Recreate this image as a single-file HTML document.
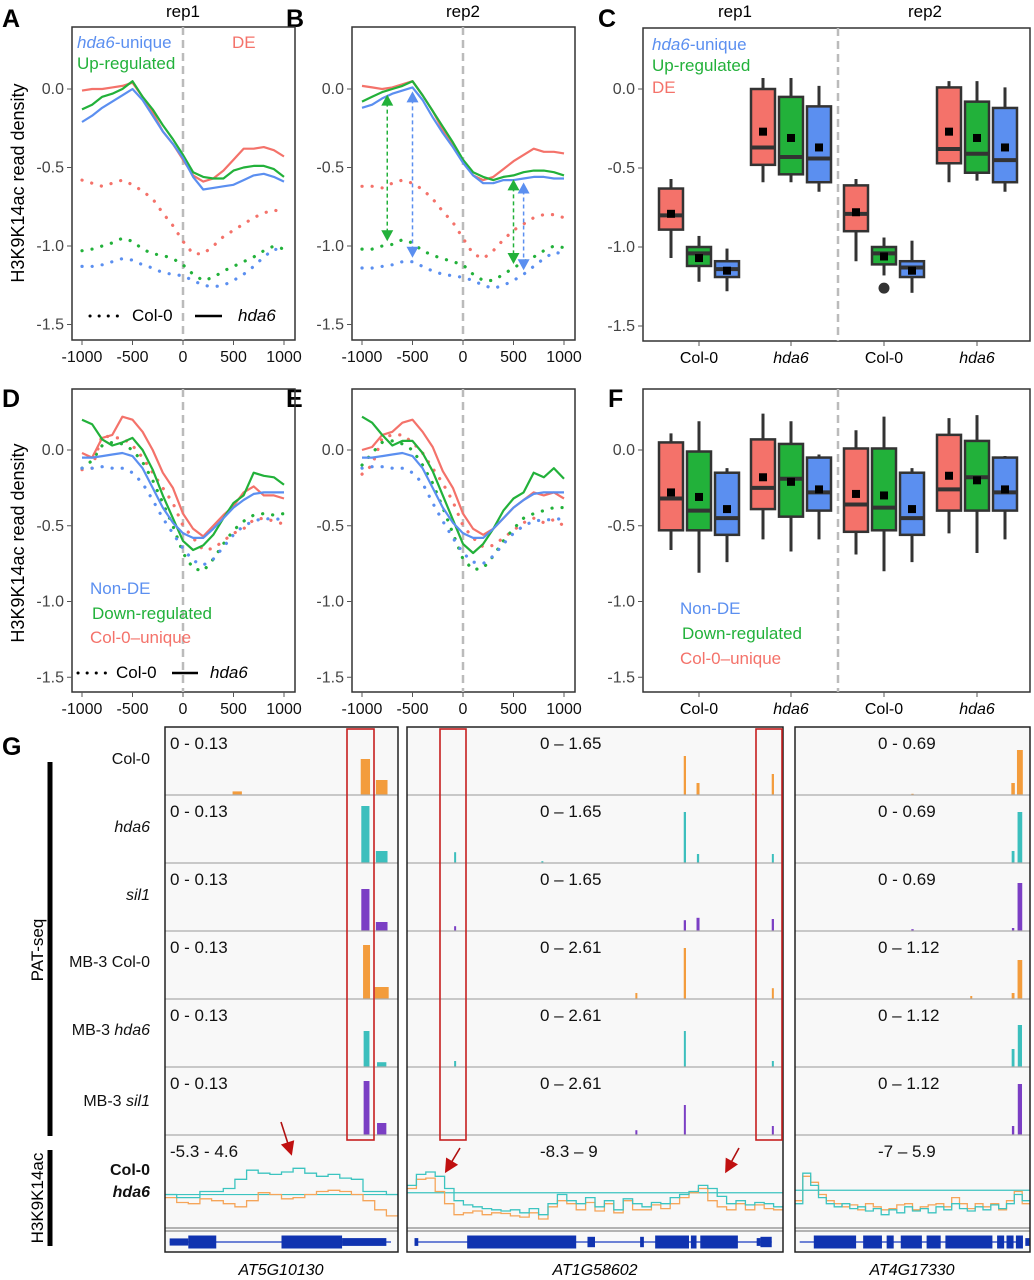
<!DOCTYPE html>
<html><head><meta charset="utf-8"><style>
body{margin:0;background:#fff}
svg{display:block;font-family:"Liberation Sans",Arial,sans-serif}
.tk{font-size:16px;fill:#444}
.pl{font-size:25px;font-weight:bold;fill:#000}
.lg{font-size:17px}
.tr{font-size:16px;fill:#111}
</style></head><body>
<svg id="fig" width="1034" height="1280" viewBox="0 0 1034 1280" xmlns="http://www.w3.org/2000/svg">
<rect width="1034" height="1280" fill="#fff"/>
<text class="pl" x="2" y="27">A</text>
<text class="pl" x="286" y="27">B</text>
<text class="pl" x="598" y="27">C</text>
<text class="pl" x="2" y="407">D</text>
<text class="pl" x="286" y="407">E</text>
<text class="pl" x="608" y="407">F</text>
<text class="pl" x="2" y="755">G</text>
<text x="183" y="17" font-size="17" text-anchor="middle">rep1</text>
<text x="463" y="17" font-size="17" text-anchor="middle">rep2</text>
<text x="735" y="17" font-size="17" text-anchor="middle">rep1</text>
<text x="925" y="17" font-size="17" text-anchor="middle">rep2</text>
<text transform="translate(24,183) rotate(-90)" font-size="18" text-anchor="middle">H3K9K14ac read density</text>
<text transform="translate(24,543) rotate(-90)" font-size="18" text-anchor="middle">H3K9K14ac read density</text>
<g id="charts"></g>
<text class="lg" x="77" y="48" fill="#5b8ff0"><tspan font-style="italic">hda6</tspan>-unique</text>
<text class="lg" x="77" y="69" fill="#22b13a">Up-regulated</text>
<text class="lg" x="232" y="48" fill="#f4726a">DE</text>
<line x1="90" y1="316" x2="120" y2="316" stroke="#000" stroke-width="3" stroke-dasharray="0.1 9" stroke-linecap="round"/>
<text class="lg" x="132" y="321">Col-0</text>
<line x1="195" y1="316" x2="222" y2="316" stroke="#000" stroke-width="2.5"/>
<text class="lg" x="238" y="321" font-style="italic">hda6</text>
<text class="lg" x="652" y="50" fill="#5b8ff0"><tspan font-style="italic">hda6</tspan>-unique</text>
<text class="lg" x="652" y="71" fill="#22b13a">Up-regulated</text>
<text class="lg" x="652" y="93" fill="#f4726a">DE</text>
<text class="lg" x="90" y="594" fill="#5b8ff0">Non-DE</text>
<text class="lg" x="92" y="619" fill="#22b13a">Down-regulated</text>
<text class="lg" x="90" y="643" fill="#f4726a">Col-0–unique</text>
<line x1="78" y1="673" x2="106" y2="673" stroke="#000" stroke-width="3" stroke-dasharray="0.1 9" stroke-linecap="round"/>
<text class="lg" x="116" y="678">Col-0</text>
<line x1="172" y1="673" x2="198" y2="673" stroke="#000" stroke-width="2.5"/>
<text class="lg" x="210" y="678" font-style="italic">hda6</text>
<text class="lg" x="680" y="614" fill="#5b8ff0">Non-DE</text>
<text class="lg" x="682" y="639" fill="#22b13a">Down-regulated</text>
<text class="lg" x="680" y="664" fill="#f4726a">Col-0–unique</text>
<line x1="50" y1="762" x2="50" y2="1136" stroke="#000" stroke-width="5"/>
<text transform="translate(43,950) rotate(-90)" font-size="17" text-anchor="middle">PAT-seq</text>
<line x1="50" y1="1150" x2="50" y2="1246" stroke="#000" stroke-width="5"/>
<text transform="translate(43,1198) rotate(-90)" font-size="17" text-anchor="middle">H3K9K14ac</text>
<text class="tr" x="150" y="764" text-anchor="end">Col-0</text>
<text class="tr" x="150" y="832" text-anchor="end" font-style="italic">hda6</text>
<text class="tr" x="150" y="900" text-anchor="end" font-style="italic">sil1</text>
<text class="tr" x="150" y="967" text-anchor="end">MB-3 Col-0</text>
<text class="tr" x="150" y="1035" text-anchor="end">MB-3 <tspan font-style="italic">hda6</tspan></text>
<text class="tr" x="150" y="1106" text-anchor="end">MB-3 <tspan font-style="italic">sil1</tspan></text>
<text class="tr" x="150" y="1175" text-anchor="end" font-weight="bold" fill="#f5b06a">Col-0</text>
<text class="tr" x="150" y="1197" text-anchor="end" font-weight="bold" font-style="italic" fill="#3cc4c0">hda6</text>
<text x="281" y="1275" font-size="16" font-style="italic" text-anchor="middle">AT5G10130</text>
<text x="595" y="1275" font-size="16" font-style="italic" text-anchor="middle">AT1G58602</text>
<text x="912" y="1275" font-size="16" font-style="italic" text-anchor="middle">AT4G17330</text>
<g id="tracks"></g>
</svg>
<script>
const positions = [-1000,-900,-800,-700,-600,-500,-400,-300,-200,-100,0,100,200,300,400,500,600,700,800,900,1000];
const xTickLabels = ['-1000','-500','0','500','1000'];
const yTickValues = [0,-0.5,-1,-1.5];
const yTickLabels = ['0.0','-0.5','-1.0','-1.5'];
const aRedSolid = [-0.01,0.0,0.0,0.01,0.02,0.04,-0.05,-0.15,-0.27,-0.35,-0.45,-0.55,-0.59,-0.57,-0.52,-0.45,-0.38,-0.38,-0.37,-0.39,-0.43];
const aGreenSolid = [-0.13,-0.10,-0.05,-0.03,0.0,0.05,-0.05,-0.13,-0.23,-0.32,-0.42,-0.53,-0.56,-0.57,-0.57,-0.52,-0.50,-0.49,-0.49,-0.51,-0.56];
const aBlueSolid = [-0.21,-0.17,-0.12,-0.08,-0.04,0.0,-0.07,-0.17,-0.27,-0.35,-0.44,-0.56,-0.64,-0.63,-0.62,-0.61,-0.58,-0.55,-0.54,-0.56,-0.59];
const aRedDot = [-0.58,-0.60,-0.62,-0.60,-0.58,-0.61,-0.65,-0.70,-0.79,-0.87,-0.97,-1.05,-1.05,-1.00,-0.94,-0.90,-0.86,-0.82,-0.79,-0.77,-0.79];
const aGreenDot = [-1.03,-1.02,-1.00,-0.98,-0.95,-0.97,-1.02,-1.05,-1.06,-1.08,-1.12,-1.18,-1.22,-1.20,-1.16,-1.13,-1.10,-1.07,-1.03,-1.00,-1.02];
const aBlueDot = [-1.13,-1.13,-1.12,-1.10,-1.08,-1.09,-1.12,-1.14,-1.17,-1.18,-1.19,-1.22,-1.25,-1.26,-1.25,-1.22,-1.18,-1.13,-1.07,-1.02,-1.03];
const bRedSolid = [0.02,0.01,0.0,0.01,0.03,0.05,-0.04,-0.14,-0.26,-0.36,-0.46,-0.55,-0.58,-0.56,-0.51,-0.46,-0.42,-0.38,-0.40,-0.40,-0.41];
const bGreenSolid = [-0.08,-0.05,-0.02,0.0,0.02,0.05,-0.04,-0.14,-0.24,-0.34,-0.45,-0.53,-0.56,-0.58,-0.56,-0.55,-0.53,-0.52,-0.52,-0.53,-0.55];
const bBlueSolid = [-0.12,-0.10,-0.06,-0.03,-0.01,0.01,-0.07,-0.18,-0.28,-0.37,-0.47,-0.55,-0.60,-0.60,-0.58,-0.58,-0.57,-0.56,-0.56,-0.57,-0.57];
const bRedDot = [-0.62,-0.62,-0.63,-0.60,-0.58,-0.60,-0.64,-0.70,-0.78,-0.85,-0.95,-1.05,-1.08,-1.03,-0.96,-0.90,-0.86,-0.82,-0.80,-0.80,-0.82];
const bGreenDot = [-1.02,-1.02,-1.00,-0.99,-0.96,-0.98,-1.03,-1.06,-1.08,-1.10,-1.12,-1.18,-1.22,-1.22,-1.18,-1.14,-1.10,-1.07,-1.03,-1.00,-1.01];
const bBlueDot = [-1.14,-1.14,-1.13,-1.12,-1.10,-1.10,-1.13,-1.16,-1.18,-1.19,-1.20,-1.22,-1.25,-1.27,-1.25,-1.22,-1.18,-1.13,-1.08,-1.04,-1.05];
const dRedSolid = [-0.02,-0.05,0.08,0.10,0.22,0.20,0.12,0.0,-0.15,-0.25,-0.42,-0.52,-0.57,-0.50,-0.43,-0.37,-0.28,-0.24,-0.30,-0.30,-0.32];
const dGreenSolid = [0.20,0.17,0.07,0.03,0.05,0.08,0.0,-0.13,-0.30,-0.45,-0.60,-0.66,-0.63,-0.56,-0.45,-0.35,-0.30,-0.15,-0.17,-0.18,-0.23];
const dBlueSolid = [-0.05,-0.05,-0.04,-0.03,-0.02,-0.04,-0.12,-0.25,-0.38,-0.48,-0.55,-0.58,-0.58,-0.52,-0.45,-0.38,-0.33,-0.29,-0.28,-0.28,-0.28];
const dRedDot = [-0.13,-0.12,0.10,0.08,0.08,0.03,-0.05,-0.15,-0.25,-0.35,-0.50,-0.58,-0.66,-0.65,-0.60,-0.55,-0.52,-0.46,-0.45,-0.47,-0.49];
const dGreenDot = [-0.12,-0.07,0.03,0.05,0.04,0.0,-0.08,-0.20,-0.35,-0.50,-0.68,-0.78,-0.80,-0.72,-0.62,-0.53,-0.47,-0.43,-0.42,-0.43,-0.42];
const dBlueDot = [-0.12,-0.12,-0.11,-0.12,-0.12,-0.15,-0.22,-0.33,-0.45,-0.55,-0.65,-0.73,-0.76,-0.72,-0.64,-0.56,-0.50,-0.47,-0.45,-0.46,-0.45];
const eRedSolid = [0.0,0.02,0.10,0.12,0.18,0.20,0.12,0.02,-0.14,-0.25,-0.42,-0.52,-0.56,-0.52,-0.45,-0.38,-0.33,-0.28,-0.30,-0.28,-0.32];
const eGreenSolid = [0.22,0.18,0.10,0.03,0.06,0.06,-0.02,-0.14,-0.30,-0.46,-0.62,-0.68,-0.62,-0.52,-0.40,-0.32,-0.28,-0.15,-0.18,-0.12,-0.19];
const eBlueSolid = [-0.05,-0.05,-0.04,-0.03,-0.02,-0.04,-0.12,-0.25,-0.38,-0.48,-0.55,-0.58,-0.58,-0.52,-0.45,-0.38,-0.33,-0.29,-0.28,-0.28,-0.28];
const eRedDot = [-0.16,-0.10,0.08,0.10,0.10,0.05,-0.02,-0.12,-0.22,-0.34,-0.50,-0.58,-0.64,-0.63,-0.58,-0.53,-0.48,-0.45,-0.48,-0.46,-0.50];
const eGreenDot = [-0.10,-0.02,0.05,0.06,0.04,0.0,-0.10,-0.22,-0.38,-0.55,-0.72,-0.79,-0.78,-0.70,-0.60,-0.52,-0.45,-0.42,-0.40,-0.38,-0.38];
const eBlueDot = [-0.12,-0.11,-0.11,-0.12,-0.12,-0.15,-0.22,-0.35,-0.47,-0.58,-0.68,-0.74,-0.75,-0.70,-0.62,-0.55,-0.50,-0.47,-0.46,-0.46,-0.45];
const boxGroups = ['Col-0','hda6','Col-0','hda6'];
const cRed = [[-1.07,-0.89,-0.80,-0.63,-0.57,-0.79],[-0.59,-0.48,-0.37,0.00,0.07,-0.27],[-1.09,-0.90,-0.79,-0.61,-0.57,-0.78],[-0.59,-0.47,-0.38,0.01,0.05,-0.27]];
const cGreen = [[-1.22,-1.12,-1.04,-1.00,-0.93,-1.07],[-0.59,-0.54,-0.43,-0.05,0.07,-0.31],[-1.18,-1.11,-1.04,-1.00,-0.94,-1.06],[-0.58,-0.53,-0.41,-0.08,0.05,-0.31]];
const cBlue = [[-1.28,-1.19,-1.14,-1.09,-1.01,-1.15],[-0.65,-0.59,-0.44,-0.11,0.02,-0.37],[-1.29,-1.19,-1.13,-1.09,-0.96,-1.15],[-0.65,-0.59,-0.45,-0.12,0.01,-0.37]];
const cOutliers = [[2,1,-1.26]];
const fRed = [[-0.66,-0.53,-0.32,0.05,0.11,-0.28],[-0.59,-0.39,-0.25,0.07,0.24,-0.18],[-0.69,-0.54,-0.36,0.01,0.13,-0.29],[-0.55,-0.40,-0.26,0.10,0.21,-0.17]];
const fGreen = [[-0.81,-0.53,-0.40,-0.01,0.19,-0.31],[-0.67,-0.44,-0.19,0.04,0.19,-0.21],[-0.80,-0.53,-0.38,0.01,0.22,-0.30],[-0.68,-0.40,-0.18,0.06,0.23,-0.20]];
const fBlue = [[-0.74,-0.56,-0.45,-0.15,-0.12,-0.39],[-0.59,-0.40,-0.28,-0.05,-0.03,-0.26],[-0.74,-0.56,-0.45,-0.15,-0.12,-0.39],[-0.59,-0.40,-0.28,-0.05,-0.04,-0.26]];
const trackNames = ['col0','hda6','sil1','mb3-col0','mb3-hda6','mb3-sil1'];
const trackColors = ['#f39c3c','#3cbfbd','#7b3fc4','#f39c3c','#3cbfbd','#7b3fc4'];
const rangeLabels1 = ['0 - 0.13','0 - 0.13','0 - 0.13','0 - 0.13','0 - 0.13','0 - 0.13','-5.3 - 4.6'];
const rangeLabels2 = ['0 – 1.65','0 – 1.65','0 – 1.65','0 – 2.61','0 – 2.61','0 – 2.61','-8.3 – 9'];
const rangeLabels3 = ['0 - 0.69','0 - 0.69','0 - 0.69','0 – 1.12','0 – 1.12','0 – 1.12','-7 – 5.9'];
const peaks1 = [[[0.86,0.6,0.04],[0.93,0.25,0.05],[0.31,0.06,0.04]],[[0.86,0.95,0.035],[0.93,0.2,0.05]],[[0.86,0.7,0.035],[0.93,0.15,0.05]],[[0.865,0.9,0.03],[0.93,0.2,0.06]],[[0.865,0.6,0.025],[0.93,0.08,0.04]],[[0.865,0.9,0.025],[0.93,0.2,0.04]]];
const peaks2 = [[[0.739,0.65,0.006],[0.774,0.2,0.008],[0.973,0.35,0.006],[0.92,0.02,0.005]],[[0.128,0.18,0.005],[0.36,0.03,0.005],[0.739,0.85,0.006],[0.774,0.15,0.006],[0.973,0.15,0.005]],[[0.128,0.08,0.005],[0.739,0.18,0.006],[0.774,0.22,0.008],[0.973,0.2,0.006]],[[0.61,0.1,0.005],[0.739,0.85,0.006],[0.973,0.18,0.005]],[[0.128,0.1,0.005],[0.739,0.6,0.005],[0.973,0.1,0.005]],[[0.61,0.08,0.005],[0.739,0.5,0.005],[0.973,0.15,0.005]]];
const peaks3 = [[[0.957,0.75,0.025],[0.928,0.2,0.015],[0.5,0.02,0.01]],[[0.957,0.85,0.02],[0.928,0.2,0.012]],[[0.957,0.8,0.02],[0.928,0.05,0.01],[0.5,0.03,0.01]],[[0.957,0.65,0.02],[0.928,0.1,0.012],[0.75,0.05,0.008]],[[0.957,0.7,0.018],[0.928,0.3,0.012]],[[0.957,0.85,0.018],[0.928,0.15,0.01]]];
const h3Teal1 = [0.45,0.4,0.4,0.5,0.5,0.55,0.7,0.85,0.8,0.78,0.82,0.88,0.8,0.75,0.78,0.72,0.7,0.5,0.5,0.45];
const h3Orange1 = [0.4,0.32,0.3,0.38,0.35,0.3,0.25,0.35,0.48,0.45,0.38,0.4,0.45,0.5,0.52,0.5,0.45,0.35,0.2,0.1];
const h3Teal2 = [0.6,0.78,0.82,0.75,0.55,0.35,0.28,0.25,0.22,0.2,0.18,0.2,0.15,0.22,0.12,0.3,0.45,0.35,0.3,0.4,0.25,0.35,0.2,0.38,0.3,0.25,0.32,0.3,0.4,0.45,0.5,0.6,0.55,0.42,0.3,0.35,0.28,0.32,0.3,0.25];
const h3Orange2 = [0.55,0.7,0.72,0.5,0.3,0.12,0.15,0.18,0.12,0.15,0.14,0.1,0.08,0.15,0.05,0.25,0.35,0.3,0.2,0.32,0.18,0.3,0.15,0.35,0.2,0.2,0.28,0.22,0.3,0.4,0.48,0.55,0.35,0.25,0.2,0.3,0.2,0.28,0.22,0.2];
const h3Teal3 = [0.3,0.8,0.6,0.4,0.3,0.25,0.3,0.22,0.25,0.18,0.22,0.12,0.2,0.15,0.25,0.18,0.22,0.15,0.25,0.2,0.3,0.22,0.18,0.25,0.2,0.28,0.22,0.3,0.45,0.35];
const h3Orange3 = [0.35,0.75,0.65,0.45,0.35,0.3,0.25,0.28,0.2,0.3,0.25,0.2,0.22,0.28,0.3,0.2,0.25,0.28,0.3,0.25,0.4,0.3,0.22,0.3,0.25,0.3,0.2,0.35,0.5,0.3];
const h3Flat = [0.45,0.48,0.52];
const exons1 = [[0.02,0.1,0.55],[0.1,0.22,1],[0.5,0.76,1],[0.76,0.95,0.6]];
const exons2 = [[0.02,0.03,0.6],[0.16,0.45,1],[0.48,0.5,0.8],[0.62,0.63,0.8],[0.66,0.75,1],[0.755,0.77,1],[0.78,0.88,1],[0.93,0.94,0.6],[0.94,0.97,0.8]];
const exons3 = [[0.08,0.26,1],[0.29,0.37,1],[0.39,0.42,1],[0.45,0.54,1],[0.56,0.62,1],[0.64,0.84,1],[0.86,0.89,1],[0.9,0.93,1],[0.94,0.97,1],[0.98,1.0,0.6]];

const NS='http://www.w3.org/2000/svg';
const charts=document.getElementById('charts');
const tracks=document.getElementById('tracks');
function mk(tag,attrs,parent){const e=document.createElementNS(NS,tag);for(const k in attrs)e.setAttribute(k,attrs[k]);(parent||charts).appendChild(e);return e;}
const RED='#f4726a',GREEN='#22b13a',BLUE='#5b8ff0';

function yAxis(p,name){
  yTickValues.forEach((v,i)=>{
    const y=p.y0-v*p.ppu;
    const t=mk('line',{x1:p.fx0-5,x2:p.fx0,y1:y,y2:y,stroke:'#555'});
    
    
    const l=mk('text',{x:p.fx0-8,y:y+5,'text-anchor':'end',class:'tk'});
    l.textContent=yTickLabels[i];
    
    
  });
}
function frame(p,name){
  const r=mk('rect',{x:p.fx0,y:p.fy0,width:p.fx1-p.fx0,height:p.fy1-p.fy0,fill:'none',stroke:'#333','stroke-width':1.5});
  
  
}
function linePanel(p,name,series){
  frame(p,name);yAxis(p,name);
  const sx=v=>p.x0+(v+1000)/2000*(p.x1-p.x0);
  const sy=v=>p.y0-v*p.ppu;
  const d=mk('line',{x1:sx(0),x2:sx(0),y1:p.fy0,y2:p.fy1,stroke:'#bbb','stroke-width':2.5,'stroke-dasharray':'8 5'});
  
  
  [-1000,-500,0,500,1000].forEach((v,i)=>{
    const t=mk('line',{x1:sx(v),x2:sx(v),y1:p.fy1,y2:p.fy1+5,stroke:'#555'});
    
    
    const l=mk('text',{x:sx(v),y:p.fy1+22,'text-anchor':'middle','font-size':16,fill:'#111'});
    l.textContent=xTickLabels[i];
    
    
  });
  series.forEach(s=>{
    const pts=positions.map((x,i)=>sx(x).toFixed(1)+','+sy(s.v[i]).toFixed(1)).join(' ');
    const a={points:pts,fill:'none',stroke:s.c,'stroke-width':2.2,'stroke-linejoin':'round'};
    if(s.dot){a['stroke-dasharray']='0.1 10';a['stroke-linecap']='round';a['stroke-width']=3.2;}
    const pl=mk('polyline',a);
    
    
  });
}
const PA={x0:82,x1:284,y0:89,ppu:157,fx0:72,fx1:295,fy0:27,fy1:340};
const PB={x0:362,x1:564,y0:89,ppu:157,fx0:352,fx1:575,fy0:27,fy1:340};
const PD={x0:82,x1:284,y0:450,ppu:151.5,fx0:72,fx1:295,fy0:389,fy1:692};
const PE={x0:362,x1:564,y0:450,ppu:151.5,fx0:352,fx1:575,fy0:389,fy1:692};
linePanel(PA,'panel-a',[{n:'de-col0',v:aRedDot,c:RED,dot:1},{n:'up-col0',v:aGreenDot,c:GREEN,dot:1},{n:'unique-col0',v:aBlueDot,c:BLUE,dot:1},{n:'de-hda6',v:aRedSolid,c:RED},{n:'up-hda6',v:aGreenSolid,c:GREEN},{n:'unique-hda6',v:aBlueSolid,c:BLUE}]);
linePanel(PB,'panel-b',[{n:'de-col0',v:bRedDot,c:RED,dot:1},{n:'up-col0',v:bGreenDot,c:GREEN,dot:1},{n:'unique-col0',v:bBlueDot,c:BLUE,dot:1},{n:'de-hda6',v:bRedSolid,c:RED},{n:'up-hda6',v:bGreenSolid,c:GREEN},{n:'unique-hda6',v:bBlueSolid,c:BLUE}]);
linePanel(PD,'panel-d',[{n:'col0u-col0',v:dRedDot,c:RED,dot:1},{n:'down-col0',v:dGreenDot,c:GREEN,dot:1},{n:'nonde-col0',v:dBlueDot,c:BLUE,dot:1},{n:'col0u-hda6',v:dRedSolid,c:RED},{n:'down-hda6',v:dGreenSolid,c:GREEN},{n:'nonde-hda6',v:dBlueSolid,c:BLUE}]);
linePanel(PE,'panel-e',[{n:'col0u-col0',v:eRedDot,c:RED,dot:1},{n:'down-col0',v:eGreenDot,c:GREEN,dot:1},{n:'nonde-col0',v:eBlueDot,c:BLUE,dot:1},{n:'col0u-hda6',v:eRedSolid,c:RED},{n:'down-hda6',v:eGreenSolid,c:GREEN},{n:'nonde-hda6',v:eBlueSolid,c:BLUE}]);

(function(){
  const sx=v=>PB.x0+(v+1000)/2000*(PB.x1-PB.x0), sy=v=>PB.y0-v*PB.ppu;
  const arr=[[-750,bGreenSolid,bGreenDot,GREEN],[-500,bBlueSolid,bBlueDot,BLUE],[500,bGreenSolid,bGreenDot,GREEN],[600,bBlueSolid,bBlueDot,BLUE]];
  arr.forEach(a=>{
    const fi=(a[0]+1000)/100;
    const lo=Math.floor(fi),hi=Math.ceil(fi),t=fi-lo;
    const top=a[1][lo]*(1-t)+a[1][hi]*t, bot=a[2][lo]*(1-t)+a[2][hi]*t;
    const x=sx(a[0]),y1=sy(top)+4,y2=sy(bot)-4;
    const l=mk('line',{x1:x,x2:x,y1:y1+8,y2:y2-8,stroke:a[3],'stroke-width':1.5,'stroke-dasharray':'4 3'});
    
    
    const h1=mk('polygon',{points:`${x},${y1} ${x-6},${y1+11} ${x+6},${y1+11}`,fill:a[3]});
    
    
    const h2=mk('polygon',{points:`${x},${y2} ${x-6},${y2-11} ${x+6},${y2-11}`,fill:a[3]});
    
    
  });
})();

function boxPanel(p,name,red,green,blue,outliers){
  frame(p,name);yAxis(p,name);
  const centers=[699,791,884,977];
  const sy=v=>p.y0-v*p.ppu;
  const d=mk('line',{x1:838,x2:838,y1:p.fy0,y2:p.fy1,stroke:'#bbb','stroke-width':2.5,'stroke-dasharray':'8 5'});
  
  
  boxGroups.forEach((g,gi)=>{
    const cx=centers[gi];
    const t=mk('line',{x1:cx,x2:cx,y1:p.fy1,y2:p.fy1+5,stroke:'#555'});
    
    
    const l=mk('text',{x:cx,y:p.fy1+22,'text-anchor':'middle','font-size':16,'font-style':g==='hda6'?'italic':'normal'});
    l.textContent=g;
    
    
    [[red,RED,-28],[green,GREEN,0],[blue,BLUE,28]].forEach(s=>{
      const b=s[0][gi],x=cx+s[2];
      const w=mk('line',{x1:x,x2:x,y1:sy(b[0]),y2:sy(b[4]),stroke:'#333','stroke-width':3});
      
      
      const r=mk('rect',{x:x-12,y:sy(b[3]),width:24,height:sy(b[1])-sy(b[3]),fill:s[1],stroke:'#333','stroke-width':2.5});
      
      
      const m=mk('line',{x1:x-12,x2:x+12,y1:sy(b[2]),y2:sy(b[2]),stroke:'#333','stroke-width':4});
      
      
      const mn=mk('rect',{x:x-4,y:sy(b[5])-4,width:8,height:8,fill:'#000'});
      
      
    });
  });
  (outliers||[]).forEach(o=>{
    const c=mk('circle',{cx:centers[o[0]]+(o[1]-1)*28,cy:sy(o[2]),r:5.5,fill:'#333'});
    
    
  });
}
boxPanel({y0:89,ppu:158,fx0:643,fx1:1030,fy0:28,fy1:341},'panel-c',cRed,cGreen,cBlue,cOutliers);
boxPanel({y0:450,ppu:151.5,fx0:643,fx1:1030,fy0:389,fy1:692},'panel-f',fRed,fGreen,fBlue,[]);

const TT=727, TH=68, H3TOP=1135, H3BOT=1226, GTOP=1231, GBOT=1252;
function genePanel(x0,x1,name,labels,peaks,teal,orange,flat,exons,lx){
  const W=x1-x0, px=f=>x0+f*W;
  const bg=mk('rect',{x:x0,y:TT,width:W,height:GBOT-TT,fill:'#f8f8f8'},tracks);
  
  
  for(let i=0;i<6;i++){
    const base=TT+(i+1)*TH;
    peaks[i].forEach(pk=>{
      const h=pk[1]*(TH-8), w=Math.max(2,pk[2]*W);
      const r=mk('rect',{x:px(pk[0])-w/2,y:base-h,width:w,height:h,fill:trackColors[i]},tracks);
      
      
    });
    const s=mk('line',{x1:x0,x2:x1,y1:base,y2:base,stroke:'#aaa','stroke-width':1.2},tracks);
    
    
  }
  labels.forEach((t,i)=>{
    const l=mk('text',{x:lx,y:TT+i*TH+22,'font-size':17,fill:'#111'},tracks);
    l.textContent=t;
    
    
  });
  const hy=f=>H3BOT-4-f*(H3BOT-H3TOP-30);
  const fl=mk('line',{x1:x0,x2:x1,y1:hy(flat),y2:hy(flat),stroke:'#3cc4c0','stroke-width':1.2},tracks);
  
  
  [[orange,'#f5a55a','col0'],[teal,'#3cc4c0','hda6']].forEach(s=>{
    const n=s[0].length; let pts='';
    s[0].forEach((v,i)=>{const xa=px(i/n),xb=px((i+1)/n),y=hy(v);pts+=`${xa.toFixed(1)},${y.toFixed(1)} ${xb.toFixed(1)},${y.toFixed(1)} `;});
    const pl=mk('polyline',{points:pts,fill:'none',stroke:s[1],'stroke-width':1.3},tracks);
    
    
  });
  [GTOP-3,GTOP].forEach(y=>{
    const s=mk('line',{x1:x0,x2:x1,y1:y,y2:y,stroke:'#888','stroke-width':1.2},tracks);
    
    
  });
  const gy=GTOP+11;
  const gl=mk('line',{x1:px(0.02),x2:px(0.97),y1:gy,y2:gy,stroke:'#1a3cc0','stroke-width':1.3},tracks);
  
  
  exons.forEach(e=>{
    const h=e[2]*13;
    const r=mk('rect',{x:px(e[0]),y:gy-h/2,width:Math.max(2,px(e[1])-px(e[0])),height:h,fill:'#1033b0'},tracks);
    
    
  });
  const fr=mk('rect',{x:x0,y:TT,width:W,height:GBOT-TT,fill:'none',stroke:'#222','stroke-width':1.5},tracks);
  
  
}
genePanel(165,398,'gene1',rangeLabels1,peaks1,h3Teal1,h3Orange1,h3Flat[0],exons1,170);
genePanel(407,783,'gene2',rangeLabels2,peaks2,h3Teal2,h3Orange2,h3Flat[1],exons2,540);
genePanel(795,1030,'gene3',rangeLabels3,peaks3,h3Teal3,h3Orange3,h3Flat[2],exons3,878);
[[347,374],[440,466],[756,782]].forEach(b=>{
  const r=mk('rect',{x:b[0],y:729,width:b[1]-b[0],height:411,fill:'none',stroke:'#c62020','stroke-width':1.6},tracks);
  
  
});
[[281,1122,290,1150],[460,1148,448,1168],[739,1148,728,1168]].forEach(a=>{
  const l=mk('line',{x1:a[0],y1:a[1],x2:a[2],y2:a[3],stroke:'#b01010','stroke-width':1.6},tracks);
  
  
  const dx=a[2]-a[0],dy=a[3]-a[1],L=Math.hypot(dx,dy),ux=dx/L,uy=dy/L;
  const tx=a[2]+ux*6,ty=a[3]+uy*6;
  const h=mk('polygon',{points:`${tx},${ty} ${tx-ux*14-uy*7},${ty-uy*14+ux*7} ${tx-ux*14+uy*7},${ty-uy*14-ux*7}`,fill:'#c01010'},tracks);
  
  
});
</script>
</body></html>
